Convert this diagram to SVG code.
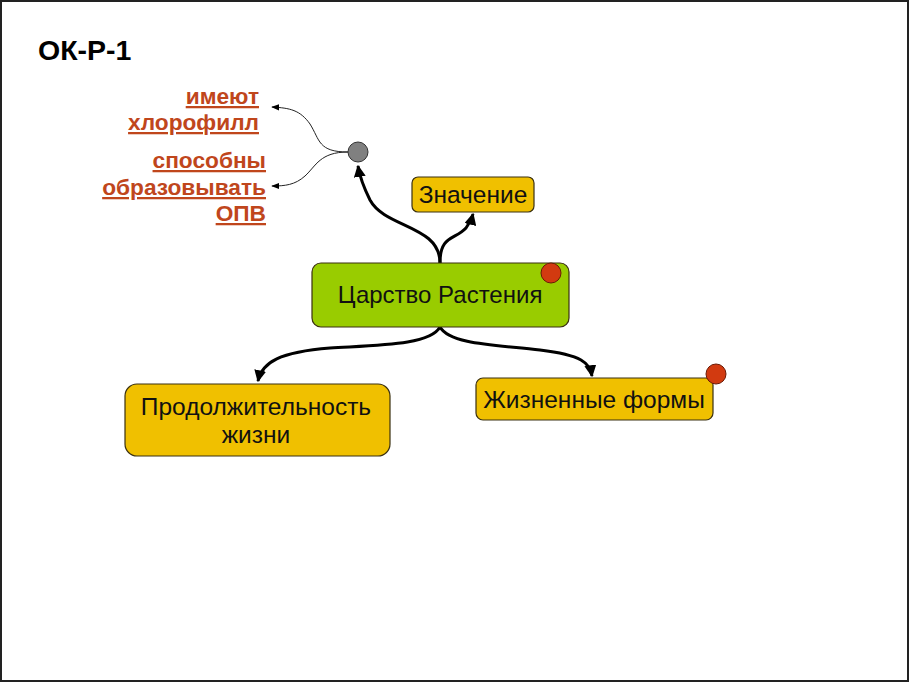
<svg xmlns="http://www.w3.org/2000/svg" width="910" height="683" viewBox="0 0 910 683">
<defs>
<style>
.box{stroke:#3a3010;stroke-width:1.2}
.gold{fill:#f0c000}
.green{fill:#99cc00}
.t{font-family:"Liberation Sans",Arial,sans-serif;fill:#111;text-anchor:middle;font-size:24.5px}
.lbl{font-family:"Liberation Sans",Arial,sans-serif;font-weight:bold;font-size:22.7px;fill:#c0461c;text-anchor:end;text-decoration:underline}
.c{fill:none;stroke:#000;stroke-width:3}
.thin{fill:none;stroke:#222;stroke-width:1}
.dot{fill:#d23a10;stroke:#6a1a05;stroke-width:1}
</style>
<marker id="ah" viewBox="0 0 10 10" refX="9" refY="5" markerWidth="4" markerHeight="4" orient="auto" markerUnits="strokeWidth"><path d="M0,0 L10,5 L0,10 z" fill="#000"/></marker>
<marker id="ahs" viewBox="0 0 10 10" refX="9" refY="5" markerWidth="8" markerHeight="8" orient="auto" markerUnits="strokeWidth"><path d="M0,1 L10,5 L0,9 z" fill="#000"/></marker>
</defs>
<rect x="1" y="1" width="907" height="680" fill="#fff" stroke="#222" stroke-width="2"/>
<text x="38" y="60" font-family="Liberation Sans,Arial,sans-serif" font-weight="bold" font-size="28.5" fill="#000">ОК-Р-1</text>
<g id="connectors">
<path class="c" marker-end="url(#ah)" d="M440,263 C440,225 385,228 370,200 C364,188 360,178 358,166"/>
<path class="c" marker-end="url(#ah)" d="M440,263 C440,235 455,240 466,228 C470,222 472,218 473,214"/>
<path class="c" marker-end="url(#ah)" d="M440,327 C430,345 380,345 330,348 C280,352 262,362 258,381"/>
<path class="c" marker-end="url(#ah)" d="M440,327 C450,345 500,345 540,350 C582,355 590,363 592,376"/>
<path class="thin" marker-end="url(#ahs)" d="M348,152 C318,152 320,140 310,124 C300,110 290,108 272,107"/>
<path class="thin" marker-end="url(#ahs)" d="M348,152 C320,152 316,166 305,176 C295,185 285,186 272,186"/>
</g>
<g id="label-chlorophyll">
<text class="lbl" x="259" y="104">имеют</text>
<text class="lbl" x="259" y="130">хлорофилл</text>
</g>
<g id="label-opv">
<text class="lbl" x="266" y="168">способны</text>
<text class="lbl" x="266" y="195">образовывать</text>
<text class="lbl" x="266" y="221">ОПВ</text>
</g>
<g id="node-junction">
<circle cx="358" cy="152" r="10" fill="#808080" stroke="#333" stroke-width="1"/>
</g>
<g id="node-znachenie">
<rect class="box gold" x="412" y="177" width="122" height="35" rx="6"/>
<text class="t" x="473" y="203">Значение</text>
</g>
<g id="node-center">
<rect class="box green" x="312" y="263" width="257" height="64" rx="9"/>
<text class="t" x="440" y="303" style="font-size:24px">Царство Растения</text>
<circle class="dot" cx="551" cy="273" r="10"/>
</g>
<g id="node-duration">
<rect class="box gold" x="125" y="384" width="265" height="72" rx="12"/>
<text class="t" x="256" y="415">Продолжительность</text>
<text class="t" x="256" y="443">жизни</text>
</g>
<g id="node-forms">
<rect class="box gold" x="476" y="378" width="237" height="42" rx="7"/>
<text class="t" x="594" y="408">Жизненные формы</text>
<circle class="dot" cx="716" cy="374" r="10"/>
</g>
</svg>
